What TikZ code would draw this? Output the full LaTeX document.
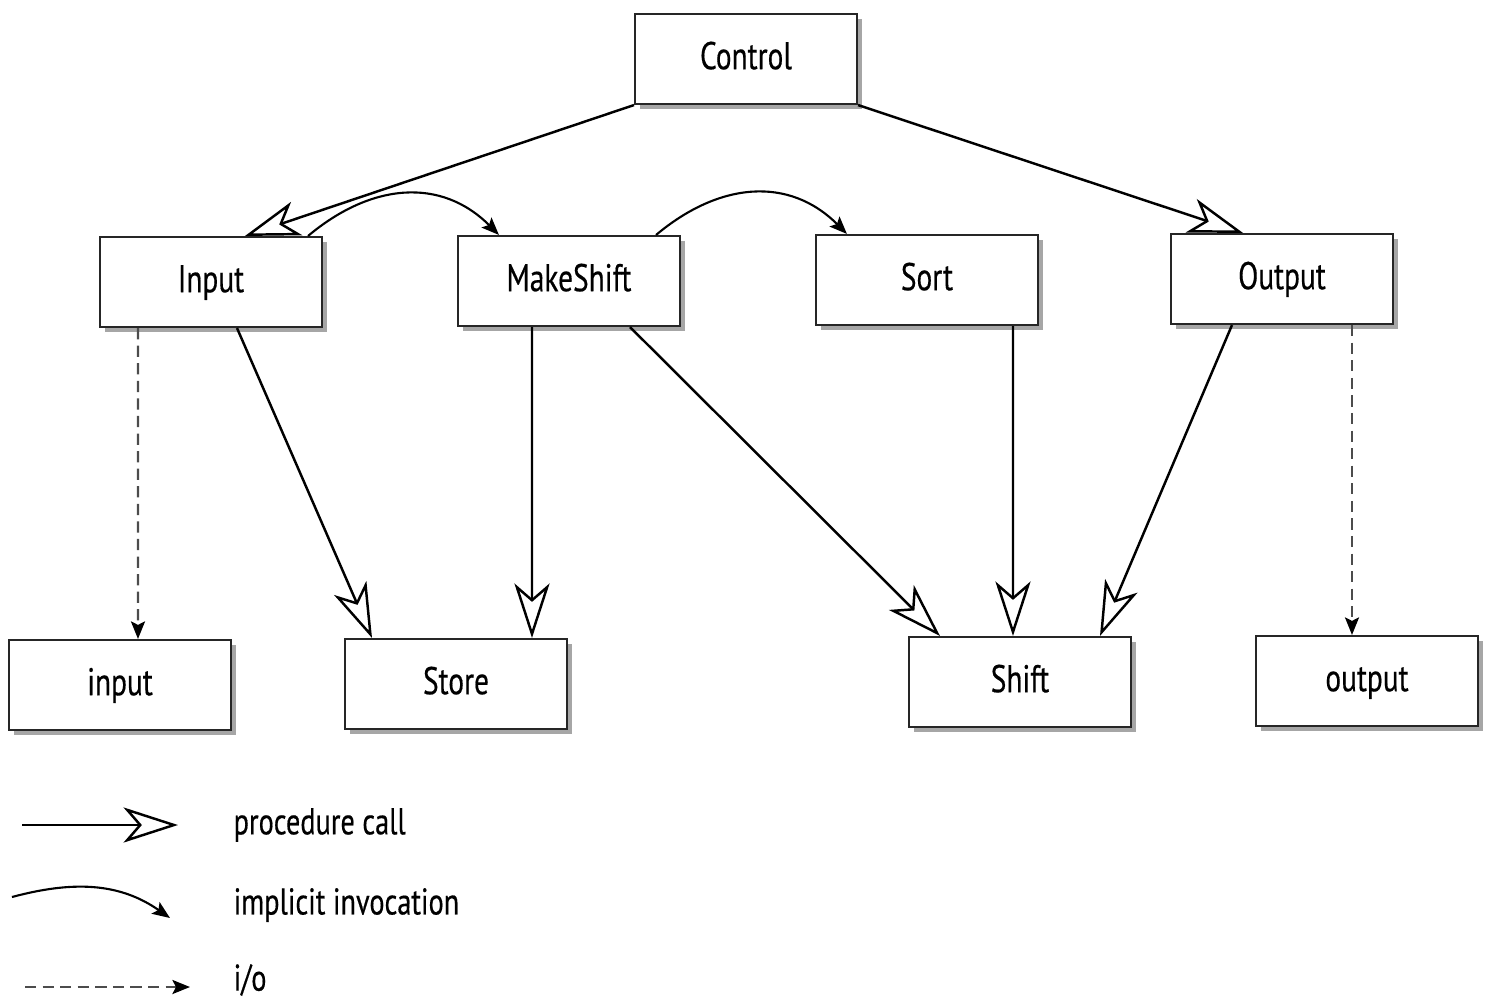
\documentclass[tikz,border=0pt]{standalone}
\usepackage{fontspec}
\setmainfont{PT Sans}[FakeStretch=0.76, FakeBold=0.4]
\usetikzlibrary{arrows.meta,shadows}
\begin{document}
\begin{tikzpicture}[
  box/.style={draw=black!85, line width=0.6pt, fill=white, minimum width=2.22cm, minimum height=0.9cm, inner sep=0pt,
    font=\fontsize{11}{13}\selectfont, text height=8pt, text depth=2.2pt,
    drop shadow={shadow xshift=0.05cm, shadow yshift=-0.05cm, fill=black!35, opacity=1}},
  call/.style={line width=0.7pt, -{Stealth[open, length=15.5pt, width=10pt, inset=4.3pt, line width=0.7pt]}},
  implicit/.style={line width=0.6pt, -{Stealth[length=5pt, width=4pt, inset=1pt]}},
  io/.style={line width=0.6pt, black!70, dash pattern=on 3.2pt off 1.8pt, -{Stealth[length=5pt, width=4pt, inset=1pt, black]}},
  legtext/.style={anchor=west, inner sep=0pt, font=\fontsize{10.6}{13}\selectfont}
]
\useasboundingbox (0,0) rectangle (14.89,-10.01);

\node[box] (Control)   at (7.46,-0.59) {Control};
\node[box] (Input)     at (2.11,-2.82) {Input};
\node[box] (MakeShift) at (5.69,-2.81) {MakeShift};
\node[box] (Sort)      at (9.27,-2.80) {Sort};
\node[box] (Output)    at (12.82,-2.79) {Output};
\node[box] (inp)       at (1.20,-6.85) {input};
\node[box] (Store)     at (4.56,-6.84) {Store};
\node[box] (Shift)     at (10.20,-6.82) {Shift};
\node[box] (outp)      at (13.67,-6.81) {output};

% procedure calls
\draw[call] (Control.south west) -- ([xshift=0.34cm]Input.north);
\draw[call] (Control.south east) -- ([xshift=-0.39cm]Output.north);
\draw[call] ([xshift=0.26cm]Input.south) -- ([xshift=-0.84cm]Store.north);
\draw[call] ([xshift=-0.37cm]MakeShift.south) -- ([xshift=0.76cm]Store.north);
\draw[call] ([xshift=0.61cm]MakeShift.south) -- ([xshift=-0.80cm]Shift.north);
\draw[call] ([xshift=0.86cm]Sort.south) -- ([xshift=-0.07cm]Shift.north);
\draw[call] ([xshift=-0.50cm]Output.south) -- ([xshift=0.80cm]Shift.north);

% implicit invocation
\draw[implicit] ([xshift=-0.15cm]Input.north east) to[out=40, in=135, looseness=1.1] ([xshift=0.42cm]MakeShift.north west);
\draw[implicit] ([xshift=-0.25cm]MakeShift.north east) to[out=40, in=135, looseness=1.1] ([xshift=0.32cm]Sort.north west);

% i/o
\draw[io] ([xshift=-0.73cm]Input.south) -- ([xshift=0.18cm]inp.north);
\draw[io] ([xshift=0.70cm]Output.south) -- ([xshift=-0.15cm]outp.north);

% legend
\coordinate (lp1) at (0.22,-8.25);
\coordinate (lp2) at (1.78,-8.25);
\draw[call] (lp1) -- (lp2);
\node[legtext] (lpc) at (2.33,-8.25) {procedure call};

\coordinate (li1) at (0.12,-8.97);
\coordinate (li2) at (1.70,-9.18);
\draw[implicit] (li1) to[out=15, in=145] (li2);
\node[legtext] (lii) at (2.33,-9.05) {implicit invocation};

\coordinate (ld1) at (0.25,-9.87);
\coordinate (ld2) at (1.90,-9.87);
\draw[io] (ld1) -- (ld2);
\node[legtext] (lio) at (2.33,-9.80) {i/o};
\end{tikzpicture}
\end{document}
